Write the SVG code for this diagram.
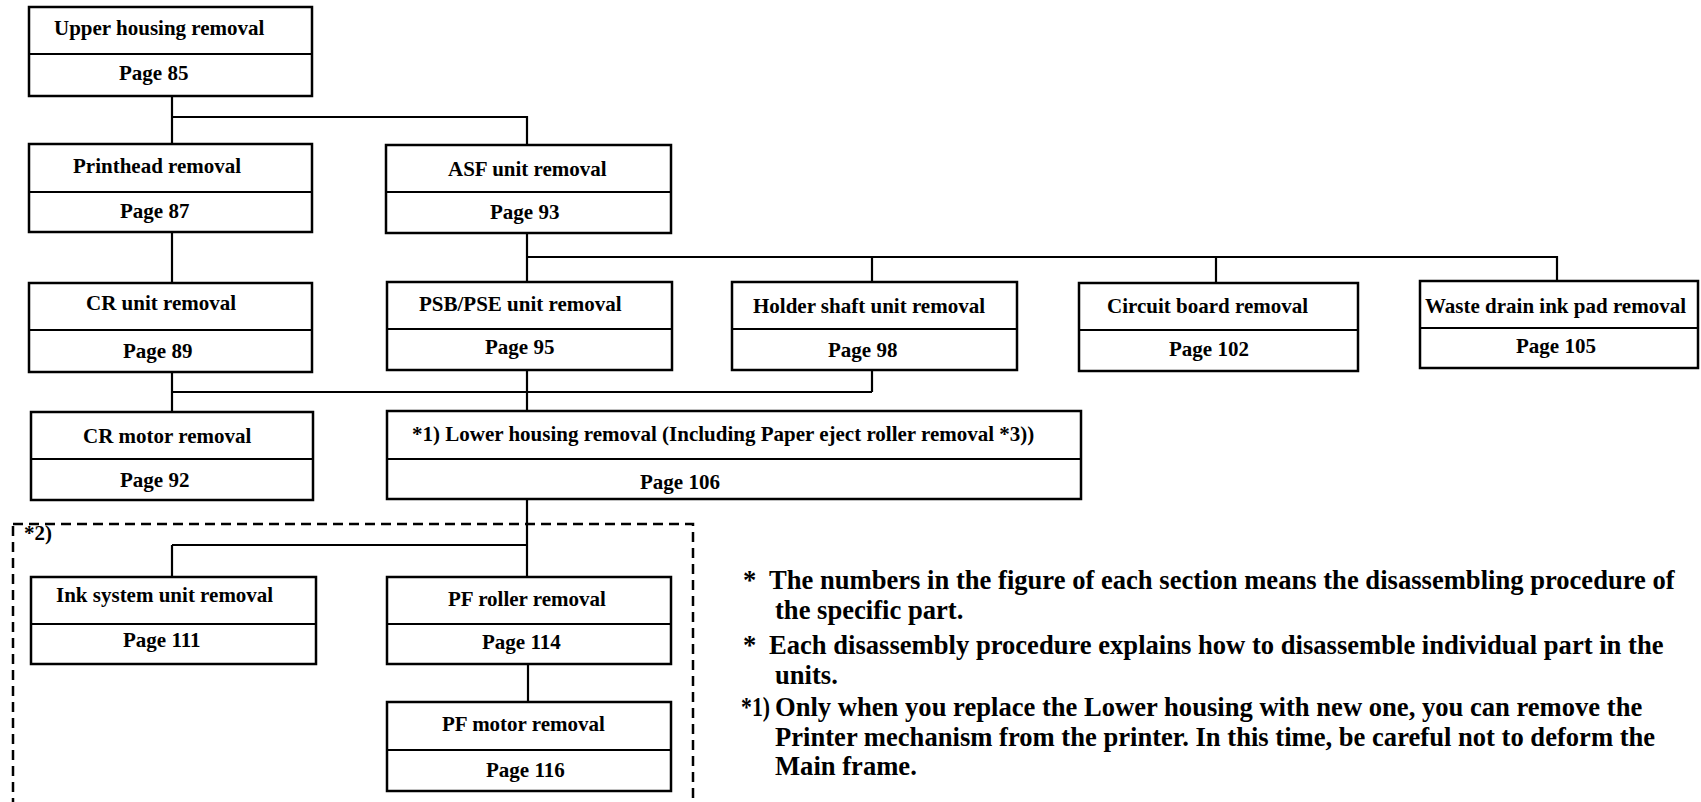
<svg xmlns="http://www.w3.org/2000/svg" width="1701" height="802" viewBox="0 0 1701 802">
<style>
.box{fill:#fff;stroke:#000;stroke-width:2.5}
.div{stroke:#000;stroke-width:2.2}
.con{fill:none;stroke:#000;stroke-width:2.2}
.dash{fill:none;stroke:#000;stroke-width:2.5;stroke-dasharray:10 6}
text{font-family:"Liberation Serif","Times New Roman",serif;font-weight:bold;fill:#000}
.lb{font-size:21px}
.nt{font-size:26.6px}
</style>
<rect width="1701" height="802" fill="#fff"/>
<rect class="dash" x="13" y="524" width="680" height="310"/>
<text class="lb" x="24" y="540">*2)</text>
<g id="connectors">
<path class="con" d="M172 96V144M172 117H527V145"/>
<path class="con" d="M172 232V283"/>
<path class="con" d="M527 233V282M527 257H1557V281M872 257V282M1216 257V283"/>
<path class="con" d="M172 372V412M172 392H872M527 370V411M872 370V392"/>
<path class="con" d="M527 499V577M172 545H527M172 545V577"/>
<path class="con" d="M528 664V702"/>
</g>
<g id="upper"><rect class="box" x="29" y="7" width="283" height="89"/><line class="div" x1="29" y1="54" x2="312" y2="54"/><text class="lb" x="54" y="35">Upper housing removal</text><text class="lb" x="119" y="80">Page 85</text></g>
<g id="printhead"><rect class="box" x="29" y="144" width="283" height="88"/><line class="div" x1="29" y1="192" x2="312" y2="192"/><text class="lb" x="73" y="173">Printhead removal</text><text class="lb" x="120" y="218">Page 87</text></g>
<g id="asf"><rect class="box" x="386" y="145" width="285" height="88"/><line class="div" x1="386" y1="192" x2="671" y2="192"/><text class="lb" x="448" y="176">ASF unit removal</text><text class="lb" x="490" y="219">Page 93</text></g>
<g id="crunit"><rect class="box" x="29" y="283" width="283" height="89"/><line class="div" x1="29" y1="330" x2="312" y2="330"/><text class="lb" x="86" y="310">CR unit removal</text><text class="lb" x="123" y="358">Page 89</text></g>
<g id="psb"><rect class="box" x="387" y="282" width="285" height="88"/><line class="div" x1="387" y1="329" x2="672" y2="329"/><text class="lb" x="419" y="311">PSB/PSE unit removal</text><text class="lb" x="485" y="354">Page 95</text></g>
<g id="holder"><rect class="box" x="732" y="282" width="285" height="88"/><line class="div" x1="732" y1="329" x2="1017" y2="329"/><text class="lb" x="753" y="313">Holder shaft unit removal</text><text class="lb" x="828" y="357">Page 98</text></g>
<g id="circuit"><rect class="box" x="1079" y="283" width="279" height="88"/><line class="div" x1="1079" y1="330" x2="1358" y2="330"/><text class="lb" x="1107" y="313">Circuit board removal</text><text class="lb" x="1169" y="356">Page 102</text></g>
<g id="waste"><rect class="box" x="1420" y="281" width="278" height="87"/><line class="div" x1="1420" y1="328" x2="1698" y2="328"/><text class="lb" x="1425" y="313">Waste drain ink pad removal</text><text class="lb" x="1516" y="353">Page 105</text></g>
<g id="crmotor"><rect class="box" x="31" y="412" width="282" height="88"/><line class="div" x1="31" y1="459" x2="313" y2="459"/><text class="lb" x="83" y="443">CR motor removal</text><text class="lb" x="120" y="487">Page 92</text></g>
<g id="lower"><rect class="box" x="387" y="411" width="694" height="88"/><line class="div" x1="387" y1="459" x2="1081" y2="459"/><text class="lb" x="412" y="441">*1) Lower housing removal (Including Paper eject roller removal *3))</text><text class="lb" x="640" y="489">Page 106</text></g>
<g id="ink"><rect class="box" x="31" y="577" width="285" height="87"/><line class="div" x1="31" y1="624" x2="316" y2="624"/><text class="lb" x="56" y="602">Ink system unit removal</text><text class="lb" x="123" y="647">Page 111</text></g>
<g id="pfroller"><rect class="box" x="387" y="577" width="284" height="87"/><line class="div" x1="387" y1="624" x2="671" y2="624"/><text class="lb" x="448" y="606">PF roller removal</text><text class="lb" x="482" y="649">Page 114</text></g>
<g id="pfmotor"><rect class="box" x="387" y="702" width="284" height="89"/><line class="div" x1="387" y1="750" x2="671" y2="750"/><text class="lb" x="442" y="731">PF motor removal</text><text class="lb" x="486" y="777">Page 116</text></g>
<g id="notes">
<text class="nt" y="589"><tspan x="743">*</tspan><tspan x="769">The numbers in the figure of each section means the disassembling procedure of</tspan></text>
<text class="nt" x="775" y="619">the specific part.</text>
<text class="nt" y="654"><tspan x="743">*</tspan><tspan x="769">Each disassembly procedure explains how to disassemble individual part in the</tspan></text>
<text class="nt" x="775" y="684">units.</text>
<text class="nt" y="716"><tspan x="741" textLength="29" lengthAdjust="spacingAndGlyphs">*1)</tspan><tspan x="775">Only when you replace the Lower housing with new one, you can remove the</tspan></text>
<text class="nt" x="775" y="746">Printer mechanism from the printer. In this time, be careful not to deform the</text>
<text class="nt" x="775" y="775">Main frame.</text>
</g>
</svg>
